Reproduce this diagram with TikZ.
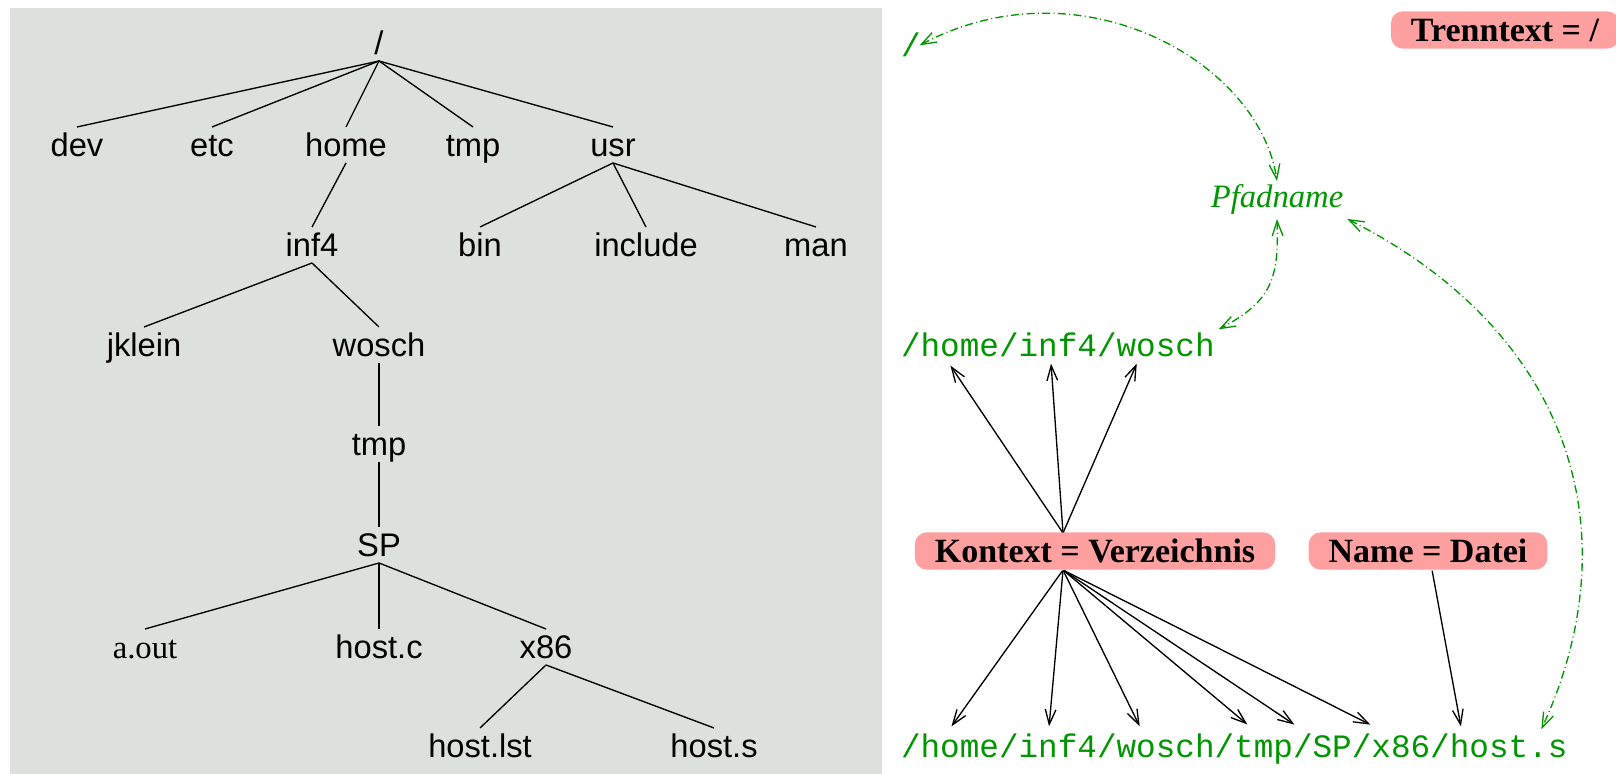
\documentclass[tikz,border=0pt]{standalone}
\usepackage{fontspec}
\setmainfont{Liberation Serif}
\setmonofont{Liberation Mono}
\newfontfamily\dirfont{Liberation Sans}
\usepackage{xcolor}
\usetikzlibrary{arrows.meta}
\definecolor{panelgray}{RGB}{221,225,221}
\definecolor{pathgreen}{RGB}{0,150,0}
\definecolor{labelpink}{RGB}{255,160,160}

\begin{document}
\begin{tikzpicture}[x=0.3pt, y=-0.3pt,
		dir/.style={font={\fontsize{9.8pt}{12pt}\selectfont\dirfont}, text height=7.2pt, text depth=0pt, inner sep=1.6pt, anchor=base},
		pth/.style={font={\fontsize{9.8pt}{12pt}\selectfont\ttfamily}, text=pathgreen, inner sep=1pt, anchor=base west},
		lab/.style={fill=labelpink, rounded corners=3.6pt, font={\fontsize{10.2pt}{12pt}\selectfont\bfseries}, inner xsep=6pt, inner ysep=1pt, minimum height=11.2pt},
		pt/.style={minimum size=0mm, inner sep=0pt},
		ptr/.style={-{Straight Barb[length=4.5pt,width=3.2pt]}},
		lnk/.style={draw=pathgreen, dash pattern=on 2.4pt off 1pt on 0.3pt off 1pt, {Straight Barb[length=4.5pt,width=3.2pt]}-{Straight Barb[length=4.5pt,width=3.2pt]}}]
		\useasboundingbox (0,0) rectangle (1616,774);
		\fill[panelgray] (10,8) rectangle (882,774);
		% Directory tree
		\node[dir] (root) at (379, 55) {/};
		\node[dir] (dev) at (77, 157) {dev}; \node[dir] (etc) at (212, 157) {etc};
		\node[dir] (home) at (346, 157) {home}; \node[dir] (tmp) at (473, 157) {tmp};
		\node[dir] (usr) at (613, 157) {usr};
		\node[dir] (inf4) at (312, 257) {inf4}; \node[dir] (bin) at (480, 257) {bin};
		\node[dir] (include) at (646, 257) {include}; \node[dir] (man) at (816, 257) {man};
		\node[dir] (jklein) at (144, 357) {jklein}; \node[dir] (wosch) at (379, 357) {wosch};
		\node[dir] (wtmp) at (379, 456) {tmp};
		\node[dir] (sp) at (379, 557) {SP};
		\node[dir, font={\fontsize{9.8pt}{12pt}\selectfont\rmfamily}] (aout) at (145, 659) {a.out};
		\node[dir] (hostc) at (379, 659) {host.c}; \node[dir] (x86) at (546, 659) {x86};
		\node[dir] (hostlst) at (480, 758) {host.lst}; \node[dir] (hosts) at (714, 758) {host.s};
		%
		\draw (root.south) to (dev.north); \draw (root.south) to (etc.north);
		\draw (root.south) to (home.north); \draw (root.south) to (tmp.north);
		\draw (root.south) to (usr.north);
		\draw (home.south) to (inf4.north);
		\draw (usr.south) to (bin.north); \draw (usr.south) to (include.north);
		\draw (usr.south) to (man.north);
		\draw (inf4.south) to (jklein.north); \draw (inf4.south) to (wosch.north);
		\draw (wosch.south) to (wtmp.north); \draw (wtmp.south) to (sp.north);
		\draw (sp.south) to (aout.north); \draw (sp.south) to (hostc.north);
		\draw (sp.south) to (x86.north);
		\draw (x86.south) to (hostlst.north); \draw (x86.south) to (hosts.north);
		% Path names and labels
		\node[pth] (sep) at (897, 57) {/};
		\node[pth] (short) at (897, 357) {/home/inf4/wosch};
		\node[pth] (full) at (897, 758) {/home/inf4/wosch/tmp/SP/x86/host.s};
		\node[anchor=base, text=pathgreen, inner sep=1pt, font={\fontsize{9.8pt}{12pt}\selectfont\itshape}] (pfad) at (1277, 208) {Pfadname};
		\node[lab] (trenn) at (1505, 30) {Trenntext = /};
		\node[lab] (ctx) at (1095, 551) {Kontext = Verzeichnis};
		\node[lab] (fname) at (1428, 551) {Name = Datei};
		%
		\node[pt] (kup) at (1063, 533) {}; \node[pt] (kdown) at (1063, 570) {};
		\node[pt] (nup) at (1432, 570) {};
		\node[pt] (s1) at (950, 365) {}; \node[pt] (s2) at (1051, 363) {};
		\node[pt] (s3) at (1137, 363) {};
		\node[pt] (f1) at (951, 727) {}; \node[pt] (f2) at (1049, 727) {};
		\node[pt] (f3) at (1140, 727) {}; \node[pt] (f4) at (1248, 725) {};
		\node[pt] (f5) at (1295, 725) {}; \node[pt] (f6) at (1371, 725) {};
		\node[pt] (f7) at (1461, 727) {}; \node[pt] (dot) at (1541, 730) {};
		% Arrows from the labels
		\draw[ptr] (kup) to (s1); \draw[ptr] (kup) to (s2); \draw[ptr] (kup) to (s3);
		\draw[ptr] (kdown) to (f1); \draw[ptr] (kdown) to (f2); \draw[ptr] (kdown) to (f3);
		\draw[ptr] (kdown) to (f4); \draw[ptr] (kdown) to (f5); \draw[ptr] (kdown) to (f6);
		\draw[ptr] (nup) to (f7);
		%% Green links
		\draw[lnk] ([xshift=-1.5pt]sep.east) .. controls +(160,-85) and +(-18,-120) .. (pfad.north);
		\draw[lnk] (pfad.south) .. controls +(2,60) and +(53,-28) .. (short.north east);
		\draw[lnk] (pfad.south east) .. controls +(222,112) and +(92,-200) .. (dot);
	\end{tikzpicture}
\end{document}
